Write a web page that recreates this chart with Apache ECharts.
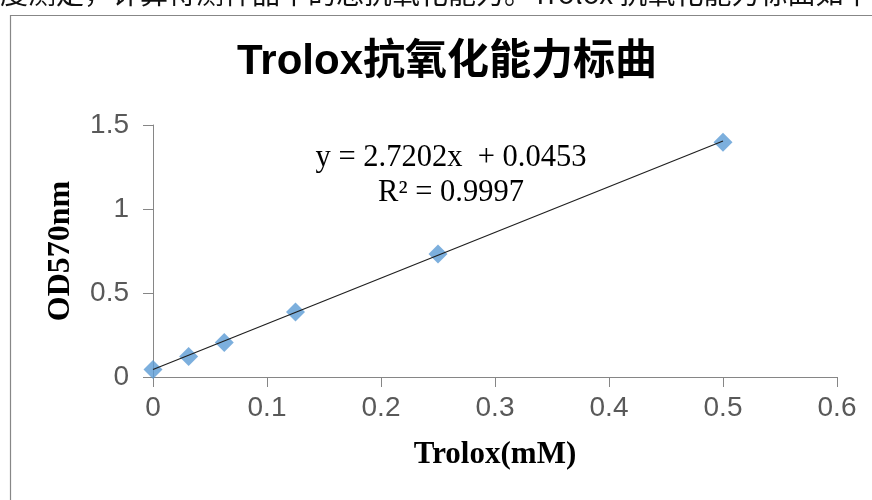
<!DOCTYPE html>
<html>
<head>
<meta charset="utf-8">
<script src="https://cdn.jsdelivr.net/npm/echarts@6/dist/echarts.min.js"></script>
<style>
html,body{margin:0;padding:0;background:#fff;}
#chart{width:872px;height:500px;}
</style>
</head>
<body>
<div id="chart"></div>
<script>
// ---- data ----
var concentrations = [0, 0.03125, 0.0625, 0.125, 0.25, 0.5];
var odValues = [0.045, 0.122, 0.205, 0.387, 0.732, 1.397];
var trendX = [0, 0.5];
var trendY = [0.045, 1.405];
var xTickLabels = ['0', '0.1', '0.2', '0.3', '0.4', '0.5', '0.6'];
var yTickLabels = ['0', '0.5', '1', '1.5'];
var titleText = 'Trolox抗氧化能力标曲';
var equationText = 'y = 2.7202x  + 0.0453';
var r2Text = 'R² = 0.9997';
var headerText = '度测定，计算待测样品中的总抗氧化能力。Trolox 抗氧化能力标曲如下：';
var xName = 'Trolox(mM)';
var yName = 'OD570nm';

var chart = echarts.init(document.getElementById('chart'), null, {renderer: 'canvas'});
var axisColor = '#868686';
var labelColor = '#595959';

var option = {
  backgroundColor: '#ffffff',
  animation: false,
  grid: {left: 153, top: 125, right: 35, bottom: 123},
  xAxis: {
    type: 'value', min: 0, max: 0.6, interval: 0.1,
    axisLine: {show: true, onZero: false, lineStyle: {color: axisColor, width: 1}},
    axisTick: {show: true, length: 10, lineStyle: {color: axisColor}},
    splitLine: {show: false},
    axisLabel: {
      color: labelColor, fontSize: 28, fontFamily: 'Liberation Sans', margin: 17,
      formatter: function (v) { return xTickLabels[Math.round(v * 10)]; }
    },
    name: xName, nameLocation: 'middle', nameGap: 62,
    nameTextStyle: {fontFamily: 'Liberation Serif', fontWeight: 'bold', fontSize: 31, color: '#000'}
  },
  yAxis: {
    type: 'value', min: 0, max: 1.5, interval: 0.5,
    axisLine: {show: true, lineStyle: {color: axisColor, width: 1}},
    axisTick: {show: true, length: 10, lineStyle: {color: axisColor}},
    splitLine: {show: false},
    axisLabel: {
      color: labelColor, fontSize: 28, fontFamily: 'Liberation Sans', margin: 24,
      formatter: function (v) { return yTickLabels[Math.round(v * 2)]; }
    },
    name: yName, nameLocation: 'middle', nameGap: 76, nameRotate: 90,
    nameTextStyle: {fontFamily: 'Liberation Serif', fontWeight: 'bold', fontSize: 32, color: '#000'}
  },
  series: [
    {
      type: 'scatter',
      data: concentrations.map(function (x, i) { return [x, odValues[i]]; }),
      symbol: 'diamond', symbolSize: 19,
      itemStyle: {color: '#5B9BD5'},
      z: 2
    },
    {
      type: 'line',
      data: trendX.map(function (x, i) { return [x, trendY[i]]; }),
      symbol: 'none',
      lineStyle: {color: '#1f1f1f', width: 1.2},
      z: 3
    }
  ],
  graphic: [
    {type: 'rect', shape: {x: 10.5, y: 15.5, width: 900, height: 600}, style: {fill: 'none', stroke: '#878787', lineWidth: 1.2}, z: 0, silent: true},
    {type: 'text', x: 0, y: -7, style: {text: headerText, fontSize: 28, fontFamily: 'Noto Sans CJK SC', fill: '#111', textAlign: 'left', textVerticalAlign: 'middle'}},
    {type: 'text', x: 447, y: 62, style: {text: titleText, fontSize: 42, fontWeight: 'bold', fontFamily: 'Liberation Sans, Noto Sans CJK SC', fill: '#000', textAlign: 'center', textVerticalAlign: 'middle'}},
    {type: 'text', x: 451, y: 158, style: {text: equationText, fontSize: 30.5, fontFamily: 'Liberation Serif', fill: '#000', textAlign: 'center', textVerticalAlign: 'middle'}},
    {type: 'text', x: 451, y: 193, style: {text: r2Text, fontSize: 30.5, fontFamily: 'Liberation Serif', fill: '#000', textAlign: 'center', textVerticalAlign: 'middle'}}
  ]
};
chart.setOption(option);
</script>
</body>
</html>
